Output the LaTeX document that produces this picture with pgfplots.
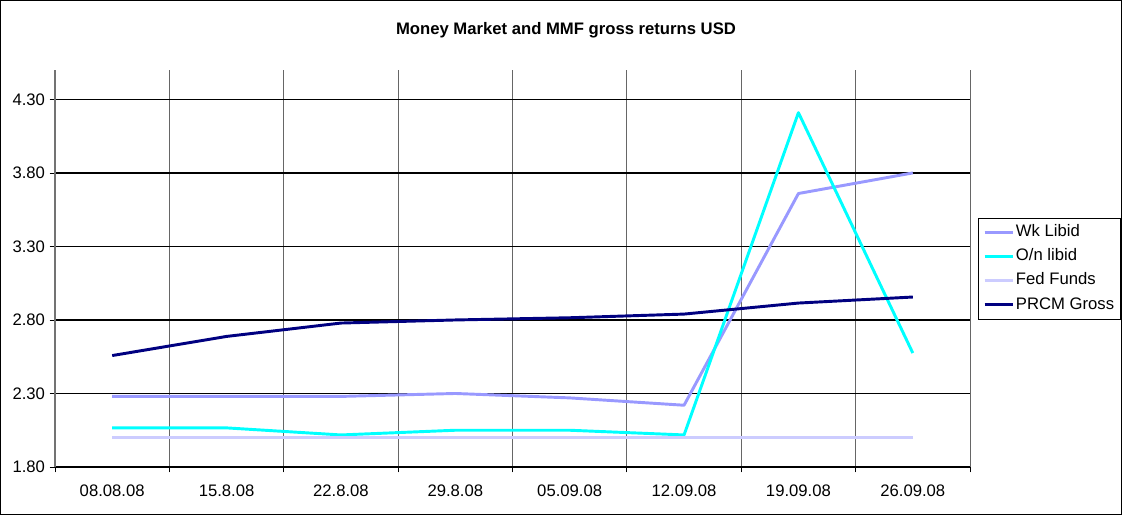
\documentclass[border=0pt]{standalone}
\usepackage{pgfplots}
\pgfplotsset{compat=1.18}
\usepackage{fontspec}
\setmainfont{Liberation Sans}
\definecolor{wk}{HTML}{9999FF}
\definecolor{on}{HTML}{00FFFF}
\definecolor{fed}{HTML}{CCCCFF}
\definecolor{prcm}{HTML}{000080}
\begin{document}
\begin{tikzpicture}
\useasboundingbox (0,0) rectangle (841.5pt,386.25pt);
\draw[line width=0.9pt] (0.45pt,0.45pt) rectangle (841.05pt,385.8pt);
\node[font=\fontsize{12.5}{15}\selectfont\bfseries] at (424.5pt,363.75pt) {Money Market and MMF gross returns USD};
\begin{axis}[
 at={(41.25pt,36pt)}, anchor=south west, scale only axis,
 width=686.25pt, height=297.75pt,
 xmin=-0.5, xmax=7.5, ymin=1.8, ymax=4.5,
 xtick={0,1,2,3,4,5,6,7},
 xticklabels={08.08.08,15.8.08,22.8.08,29.8.08,05.09.08,12.09.08,19.09.08,26.09.08},
 minor xtick={-0.5,0.5,1.5,2.5,3.5,4.5,5.5,6.5,7.5},
 major x tick style={draw=none},
 ytick={1.8,2.3,2.8,3.3,3.8,4.3},
 yticklabel style={/pgf/number format/.cd, fixed, fixed zerofill, precision=2},
 /pgf/number format/assume math mode=true,
 ymajorgrids, major y grid style={black, line width=1.2pt},
 xminorgrids, minor x grid style={black!60, line width=0.6pt},
 axis x line*=bottom, axis y line*=left, axis line style={-},
 x axis line style={black, line width=0.8pt}, y axis line style={black!55, line width=1.1pt},
 tick align=outside, major tick length=4pt, minor tick length=4pt,
 tick style={black, line width=0.6pt},
 tick label style={font=\fontsize{12.5}{15}\selectfont},
 xticklabel style={yshift=-6pt},
 legend style={at={(1,0.5)}, anchor=west, xshift=6pt, draw=black, line width=0.6pt,
   font=\fontsize{12.5}{15}\selectfont, inner sep=3.5pt, row sep=3.6pt,
   nodes={inner sep=1.5pt, text height=9pt, text depth=2.5pt}},
 legend cell align=left,
 legend image code/.code={\draw[#1] (0pt,0pt) -- (21pt,0pt);},
 every axis plot/.append style={line width=2.2pt, line join=round, no marks},
]
\addplot[color=wk] coordinates {(0,2.28) (1,2.28) (2,2.28) (3,2.30) (4,2.27) (5,2.22) (6,3.66) (7,3.80)};
\addlegendentry{Wk Libid}
\addplot[color=on] coordinates {(0,2.066) (1,2.066) (2,2.018) (3,2.05) (4,2.05) (5,2.018) (6,4.21) (7,2.575)};
\addlegendentry{O/n libid}
\addplot[color=fed] coordinates {(0,2.0) (1,2.0) (2,2.0) (3,2.0) (4,2.0) (5,2.0) (6,2.0) (7,2.0)};
\addlegendentry{Fed Funds}
\addplot[color=prcm] coordinates {(0,2.558) (1,2.688) (2,2.779) (3,2.80) (4,2.815) (5,2.84) (6,2.915) (7,2.956)};
\addlegendentry{PRCM Gross}
\end{axis}
\end{tikzpicture}
\end{document}
